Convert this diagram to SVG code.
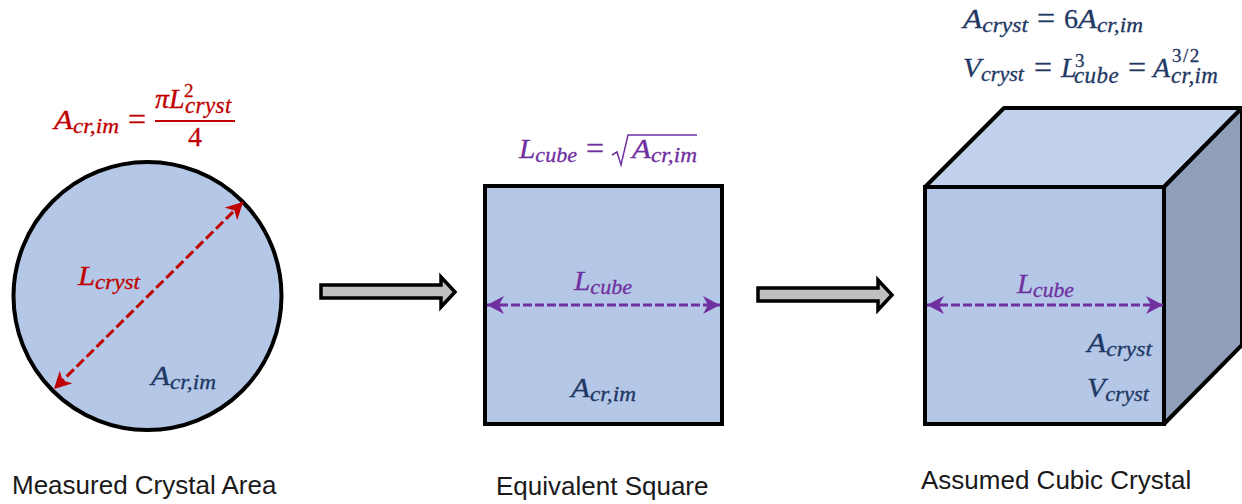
<svg xmlns="http://www.w3.org/2000/svg" width="1242" height="504" viewBox="0 0 1242 504">
<style>
.sh{stroke:#000;stroke-width:4;stroke-linejoin:miter}
.rj{stroke-linejoin:round}
.f{fill:#b4c7e7}
.m{font-family:"Liberation Serif",serif;font-style:italic;font-size:28px;stroke-width:.3}
.s{font-size:21px}
.t{font-size:23px;letter-spacing:.4px}
.u{font-size:19px;font-style:normal}
.r{font-style:normal}
.e{font-style:normal;font-size:32px}
.red{fill:#c00000;stroke:#c00000}.pur{fill:#7030a0;stroke:#7030a0}.blu{fill:#1f3864;stroke:#1f3864}
.cap{font-family:"Liberation Sans",Arial,sans-serif;font-size:26px;fill:#1a1a1a}
.ga{fill:#bfbfbf;stroke:#000;stroke-width:3.5;stroke-linejoin:miter}
.dr{stroke:#c00000;stroke-width:3;stroke-dasharray:10 4;fill:none}
.dp{stroke:#7030a0;stroke-width:3;stroke-dasharray:9 3;fill:none}
</style>
<defs>
<marker id="ar" markerUnits="userSpaceOnUse" markerWidth="20" markerHeight="20" refX="17" refY="9" orient="auto-start-reverse"><path d="M0 0L17 9L0 18L5 9Z" fill="#c00000"/></marker>
<marker id="ap" markerUnits="userSpaceOnUse" markerWidth="20" markerHeight="20" refX="17" refY="9" orient="auto-start-reverse"><path d="M0 0L17 9L0 18L5 9Z" fill="#7030a0"/></marker>
</defs>
<g id="node-circle">
<circle class="sh f" cx="147.500" cy="296" r="134"/>
<text class="m blu" x="151" y="385" textLength="65" lengthAdjust="spacingAndGlyphs">A<tspan class="s" dy="4">cr,im</tspan></text>
<text class="m red" x="78" y="285" textLength="62" lengthAdjust="spacingAndGlyphs">L<tspan class="s" dy="4">cryst</tspan></text>
</g>
<g id="node-square">
<rect class="sh f" x="485" y="186" width="237" height="238"/>
<text class="m pur" x="574" y="290" textLength="58" lengthAdjust="spacingAndGlyphs">L<tspan class="s" dy="4">cube</tspan></text>
<text class="m blu" x="571" y="397" textLength="65" lengthAdjust="spacingAndGlyphs">A<tspan class="s" dy="4">cr,im</tspan></text>
</g>
<g id="node-cube">
<path class="sh rj" fill="#c1d1ec" d="M925 187L1004 108H1242L1164 187Z"/>
<path class="sh rj" fill="#8f9fb9" d="M1164 187L1242 108V345L1164 424Z"/>
<rect class="sh f" x="925" y="187" width="239" height="237"/>
<text class="m pur" x="1017" y="293" textLength="57" lengthAdjust="spacingAndGlyphs">L<tspan class="s" dy="4">cube</tspan></text>
<text class="m blu" x="1087" y="352" textLength="65" lengthAdjust="spacingAndGlyphs">A<tspan class="s" dy="4">cryst</tspan></text>
<text class="m blu" x="1087" y="397" textLength="62" lengthAdjust="spacingAndGlyphs">V<tspan class="s" dy="4">cryst</tspan></text>
</g>
<g id="connectors">
<path class="ga" d="M321 285H441V277L455 292L441 307V298H321Z"/>
<path class="ga" d="M758 288H878V280L892 295L878 310V301H758Z"/>
<path class="dr" d="M243 202L54 389" marker-start="url(#ar)" marker-end="url(#ar)"/>
<path class="dp" d="M487 305H720" marker-start="url(#ap)" marker-end="url(#ap)"/>
<path class="dp" d="M927 305H1163" marker-start="url(#ap)" marker-end="url(#ap)"/>
</g>
<g id="eq-area">
<text class="m red" x="54" y="129" textLength="65" lengthAdjust="spacingAndGlyphs">A<tspan class="s" dy="4">cr,im</tspan></text>
<text class="m red e" x="128" y="130">=</text>
<text class="m red" x="155" y="108">πL<tspan class="u" x="184" y="97">2</tspan><tspan class="t" x="185" y="113">cryst</tspan></text>
<rect x="155" y="120" width="80" height="2" fill="#c00000"/>
<text class="m red r" x="188" y="146">4</text>
</g>
<g id="eq-root">
<text class="m pur" x="519" y="158" textLength="58" lengthAdjust="spacingAndGlyphs">L<tspan class="s" dy="4">cube</tspan></text>
<text class="m pur e" x="586" y="159">=</text>
<path d="M612 155L617 152L621 165L628 135H697" fill="none" stroke="#7030a0" stroke-width="1.500"/>
<text class="m pur" x="632" y="158" textLength="65" lengthAdjust="spacingAndGlyphs">A<tspan class="s" dy="4">cr,im</tspan></text>
</g>
<g id="eq-cube">
<text class="m blu" x="963" y="28" textLength="65" lengthAdjust="spacingAndGlyphs">A<tspan class="s" dy="4">cryst</tspan></text>
<text class="m blu e" x="1037" y="29">=</text>
<text class="m blu r" x="1064" y="28">6</text>
<text class="m blu" x="1078" y="28" textLength="65" lengthAdjust="spacingAndGlyphs">A<tspan class="s" dy="4">cr,im</tspan></text>
<text class="m blu" x="963" y="77" textLength="61" lengthAdjust="spacingAndGlyphs">V<tspan class="s" dy="4">cryst</tspan></text>
<text class="m blu e" x="1034" y="78">=</text>
<text class="m blu" x="1061" y="77">L<tspan class="u" x="1075" y="67">3</tspan><tspan class="t" x="1074" y="83">cube</tspan></text>
<text class="m blu e" x="1128" y="78">=</text>
<text class="m blu" x="1153" y="77">A<tspan class="u" x="1172" y="62" letter-spacing="1.500">3/2</tspan><tspan class="t" x="1171" y="83">cr,im</tspan></text>
</g>
<g id="captions">
<text class="cap" x="12" y="494">Measured Crystal Area</text>
<text class="cap" x="496" y="495">Equivalent Square</text>
<text class="cap" x="921" y="489">Assumed Cubic Crystal</text>
</g>
</svg>
